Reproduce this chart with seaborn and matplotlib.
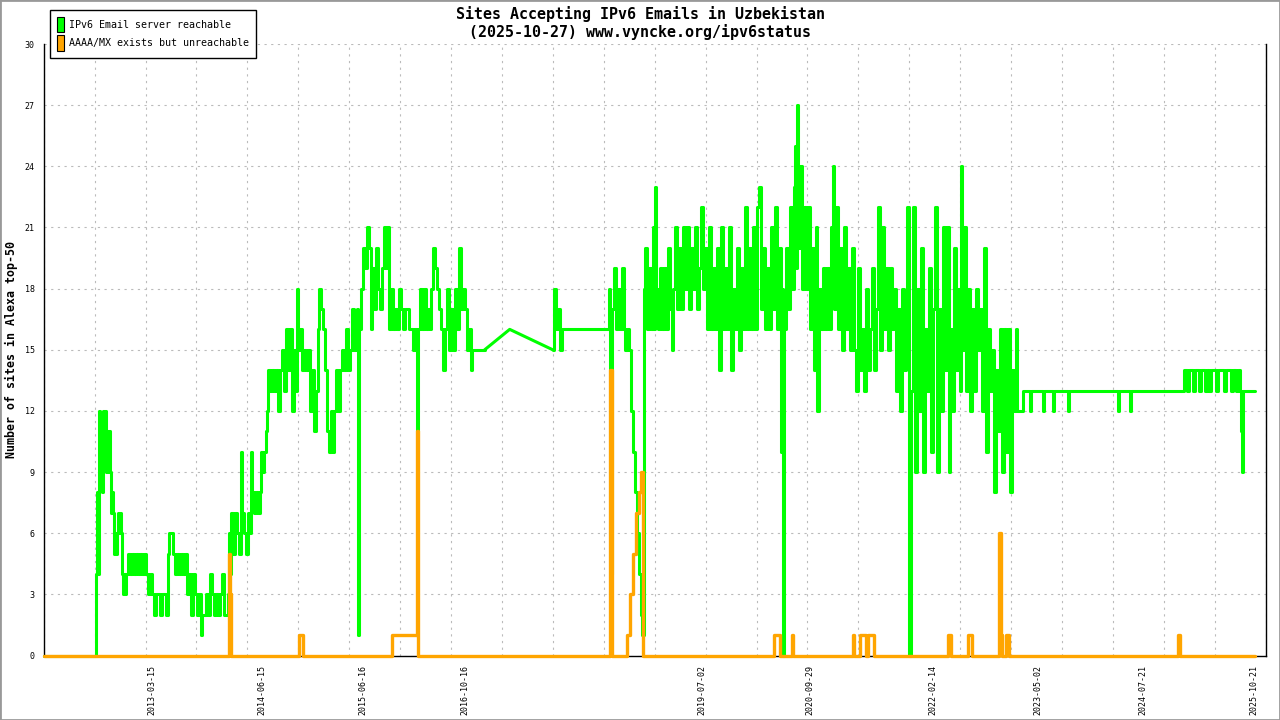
import numpy as np
import pandas as pd
import matplotlib
matplotlib.use("Agg")
import matplotlib.pyplot as plt
from matplotlib.patches import Patch, Rectangle
import seaborn as sns

# values (x = sample index along the time axis)
title_lines = ["Sites Accepting IPv6 Emails in Uzbekistan",
               "(2025-10-27) www.vyncke.org/ipv6status"]
series_names = ["IPv6 Email server reachable", "AAAA/MX exists but unreachable"]
y_label = "Number of sites in Alexa top-50"

date_labels = ["2013-03-15", "2014-06-15", "2015-06-16", "2016-10-16", "2019-07-02",
               "2020-09-29", "2022-02-14", "2023-05-02", "2024-07-21", "2025-10-21"]
date_pos = [108, 218, 319, 421, 658, 766, 889, 994, 1099, 1210]

# the 2017-2018 stretch has only a few samples, drawn as straight lines
sparse_from, sparse_to = 441, 509

green_pts = [
    (0, 0), (51, 0), (52, 4), (53, 8), (54, 4), (55, 12), (56, 9), (57, 11), (58, 8), (59, 12),
    (60, 10), (61, 12), (62, 9), (63, 11), (64, 9), (65, 11), (66, 9),
    (67, 7), (68, 8), (69, 7), (70, 5), (71, 6), (72, 5), (73, 6), (74, 7), (75, 6), (76, 7), (77, 6),
    (78, 4), (79, 3), (80, 4), (81, 3), (82, 4), (84, 5), (86, 4), (88, 5), (90, 4), (92, 5), (94, 4),
    (96, 5), (98, 4), (100, 5), (102, 4),
    (104, 3), (106, 4), (108, 3), (110, 2), (112, 3), (114, 3), (116, 2), (118, 3), (120, 3), (122, 2),
    (124, 5), (125, 6), (127, 6), (129, 5), (131, 4), (133, 5), (135, 4), (137, 5), (139, 4), (141, 5),
    (143, 3), (145, 4), (147, 2), (149, 4), (151, 3), (153, 2), (155, 3), (157, 1), (158, 2),
    (160, 2), (162, 3), (164, 2), (166, 4), (168, 3), (170, 2), (172, 3), (174, 2), (176, 3), (178, 4),
    (180, 2), (182, 2),
    (184, 3), (185, 6), (186, 4), (187, 7), (189, 5), (191, 7), (193, 6), (195, 5), (197, 10), (198, 7),
    (200, 6), (202, 5), (204, 7), (206, 6), (207, 10), (208, 8), (210, 7), (212, 8), (214, 7), (216, 8),
    (217, 10), (218, 9), (220, 10),
    (222, 11), (223, 12), (224, 14), (226, 13), (228, 14), (230, 13), (232, 14), (234, 12), (236, 14),
    (238, 15), (240, 13), (242, 16), (244, 14), (246, 16), (248, 12), (250, 15), (252, 13), (253, 18),
    (254, 15), (256, 16), (258, 14), (260, 15), (262, 14), (264, 15), (266, 12), (268, 14), (270, 11),
    (272, 13), (274, 16), (275, 18), (277, 17), (279, 16), (281, 14), (283, 11), (285, 10), (287, 12),
    (289, 10), (290, 12), (292, 14), (294, 12), (296, 14), (298, 15), (300, 14), (302, 16), (304, 14),
    (306, 15), (308, 17), (310, 15), (312, 16), (313, 17), (314, 1), (315, 16), (317, 18), (319, 20),
    (321, 19), (323, 21), (325, 20), (327, 16), (328, 19), (330, 17), (332, 20), (334, 18), (336, 17),
    (338, 19), (340, 21), (342, 19), (343, 21), (345, 16), (347, 18), (349, 16), (351, 17), (353, 16),
    (355, 18), (357, 17), (359, 16), (361, 17), (363, 17), (365, 16), (367, 16), (369, 15), (371, 16),
    (372, 15), (373, 11), (374, 16), (376, 18), (378, 16), (380, 18), (382, 16), (384, 17), (386, 16),
    (387, 18), (389, 20), (391, 19), (393, 18), (395, 17), (397, 16), (399, 14), (401, 16), (403, 18),
    (405, 15), (407, 17), (409, 15), (411, 18), (413, 16), (415, 20), (417, 17), (419, 18), (421, 17),
    (423, 15), (425, 16), (427, 14), (428, 15), (441, 15), (466, 16), (509, 15),
    (510, 18), (512, 16), (514, 17), (516, 15), (518, 16), (564, 16),
    (565, 18), (566, 14), (567, 4), (568, 17), (570, 19), (572, 16), (574, 18), (576, 16), (578, 19),
    (580, 16), (581, 15), (583, 16), (585, 15), (587, 12), (589, 10), (591, 8), (593, 6), (595, 4),
    (597, 2), (598, 1),
    (600, 18), (601, 20), (603, 16), (605, 19), (607, 16), (609, 21), (610, 16), (611, 23), (612, 18),
    (614, 16), (616, 19), (618, 16), (620, 19), (622, 16), (624, 20), (626, 17), (628, 15), (629, 18),
    (631, 21), (633, 17), (635, 20), (637, 17), (639, 21), (641, 18), (643, 21), (645, 17), (647, 20),
    (649, 18), (651, 21), (653, 17), (655, 19), (657, 22), (659, 18), (661, 20), (663, 16), (665, 21),
    (667, 16), (669, 19), (671, 16), (673, 20), (675, 14), (677, 21), (679, 16), (681, 19), (683, 16),
    (685, 21), (687, 14), (689, 18), (691, 16), (693, 20), (695, 15), (697, 19), (699, 16), (701, 22),
    (703, 16), (705, 20), (707, 16), (709, 21), (711, 16), (713, 22), (715, 23), (717, 17), (719, 20),
    (721, 16), (723, 19), (725, 16), (727, 21), (729, 17), (731, 22), (733, 16), (735, 20), (737, 10),
    (738, 18), (739, 0), (740, 16), (742, 20), (744, 17), (746, 22), (748, 18), (750, 23), (751, 25),
    (752, 19), (753, 27), (754, 20), (756, 24), (758, 18), (760, 22), (762, 18), (764, 22), (766, 16),
    (768, 20), (770, 14), (772, 21), (773, 12), (775, 18), (777, 16), (779, 19), (781, 16), (783, 19),
    (785, 16), (787, 21), (789, 24), (790, 17), (792, 22), (794, 16), (796, 20), (798, 15), (800, 21),
    (802, 16), (804, 19), (806, 15), (808, 20), (810, 15), (812, 13), (814, 19), (816, 14), (818, 16),
    (820, 13), (822, 18), (824, 14), (826, 16), (828, 19), (830, 14), (832, 17), (834, 22), (836, 15),
    (838, 21), (840, 16), (842, 19), (844, 15), (846, 19), (848, 16), (850, 18), (852, 13), (854, 17),
    (856, 12), (858, 18), (860, 14), (862, 16), (863, 22), (865, 0), (867, 13),
    (869, 22), (871, 9), (873, 18), (875, 12), (877, 20), (879, 9), (881, 16), (883, 13), (885, 19),
    (887, 10), (889, 17), (891, 22), (893, 9), (895, 17), (897, 12), (899, 21), (901, 14), (903, 21),
    (905, 9), (906, 16), (908, 12), (910, 20), (912, 14), (914, 18), (916, 13), (917, 24), (918, 15),
    (920, 21), (922, 13), (924, 18), (926, 12), (928, 17), (930, 13), (932, 18), (934, 15), (936, 17),
    (938, 12), (940, 20), (942, 10), (944, 16), (946, 13), (948, 15), (950, 8), (952, 14), (954, 11),
    (956, 16), (958, 9), (960, 16), (962, 10), (964, 16), (966, 8), (968, 14), (970, 12), (972, 16),
    (973, 12), (978, 12), (979, 13),
    (985, 13), (986, 12), (987, 13), (998, 13), (999, 12), (1000, 13), (1008, 13), (1009, 12),
    (1010, 13), (1023, 13), (1024, 12), (1025, 13), (1073, 13), (1074, 12), (1075, 13), (1085, 13),
    (1086, 12), (1087, 13), (1139, 13), (1140, 14), (1143, 13), (1145, 14), (1149, 13), (1151, 14),
    (1155, 13), (1157, 14), (1161, 13), (1163, 14), (1165, 13), (1167, 14), (1172, 13), (1174, 14),
    (1180, 13), (1182, 14), (1187, 13), (1189, 14), (1192, 13), (1194, 14), (1196, 13), (1197, 11),
    (1198, 9), (1199, 13), (1211, 13),
]

orange_pts = [
    (0, 0), (185, 5), (186, 3), (187, 0), (255, 1), (259, 0),
    (348, 1), (373, 11), (374, 0), (566, 14), (568, 0),
    (583, 1), (586, 3), (589, 5), (592, 7), (595, 8), (597, 9), (599, 0),
    (730, 1), (736, 0), (748, 1), (749, 0), (809, 1), (810, 0),
    (816, 1), (822, 0), (824, 1), (830, 0),
    (904, 1), (907, 0), (924, 1), (928, 0),
    (955, 6), (957, 1), (958, 0), (962, 1), (965, 0),
    (1134, 1), (1136, 0), (1211, 0),
]

GREEN = "#00ff00"
ORANGE = "#ffa500"

df_green = pd.DataFrame(green_pts, columns=["sample", "sites"])
df_orange = pd.DataFrame(orange_pts, columns=["sample", "sites"])

sns.set_style("white")
plt.rcParams["font.family"] = ["DejaVu Sans Mono"]
plt.rcParams["text.color"] = "black"
plt.rcParams["axes.labelcolor"] = "black"

fig = plt.figure(figsize=(12.8, 7.2), dpi=100)
ax = fig.add_axes([43.7 / 1280, 1 - 655.5 / 720, 1222 / 1280, 611.5 / 720])

dense_a = df_green[df_green["sample"] <= sparse_from]
sparse = df_green[(df_green["sample"] >= sparse_from) & (df_green["sample"] <= sparse_to)]
dense_b = df_green[df_green["sample"] >= sparse_to]

for part, style in [(dense_a, "steps-post"), (sparse, "default"), (dense_b, "steps-post")]:
    sns.lineplot(data=part, x="sample", y="sites", color=GREEN, lw=2.2, drawstyle=style,
                 estimator=None, sort=False, ax=ax, legend=False, clip_on=False, zorder=3)
sns.lineplot(data=df_orange, x="sample", y="sites", color=ORANGE, lw=2.4, drawstyle="steps-post",
             estimator=None, sort=False, ax=ax, legend=False, clip_on=False, zorder=4)

ax.set_xlim(0, 1222)
ax.set_ylim(0, 30)
ax.set_xticks(np.linspace(0, 1222, 25))
ax.set_xticks(date_pos, minor=True)
ax.set_xticklabels(date_labels, minor=True)
ax.set_yticks(range(0, 31, 3))
ax.set_xlabel("")
ax.set_ylabel(y_label, fontsize=8.4, fontweight="bold")
ax.yaxis.set_label_coords(-0.021, 0.5)

ax.grid(True, which="major", color="#bbbbbb", linestyle=(0, (2, 4)), linewidth=0.8)
ax.set_axisbelow(True)

ax.tick_params(axis="y", direction="inout", length=7.2, width=1, labelsize=6, pad=3,
               colors="black")
ax.tick_params(axis="x", which="major", direction="out", length=4.3, width=1,
               labelbottom=False, colors="black")
ax.tick_params(axis="x", which="minor", length=0, labelsize=6, pad=7, labelrotation=90,
               colors="black")

ax.spines["top"].set_visible(False)
for side in ["left", "right", "bottom"]:
    ax.spines[side].set_color("black")
    ax.spines[side].set_linewidth(1.0)

fig.text(0.5, 1 - 14 / 720, title_lines[0], ha="center", va="center",
         fontsize=10.8, fontweight="bold", color="black")
fig.text(0.5, 1 - 32 / 720, title_lines[1], ha="center", va="center",
         fontsize=10.8, fontweight="bold", color="black")

handles = [Patch(facecolor=GREEN, edgecolor="black", lw=0.8),
           Patch(facecolor=ORANGE, edgecolor="black", lw=0.8)]
leg = fig.legend(handles, series_names, loc="upper left",
                 bbox_to_anchor=(50 / 1280, 1 - 10 / 720), bbox_transform=fig.transFigure,
                 borderaxespad=0, fontsize=7.2, handlelength=0.67, handleheight=2.0,
                 handletextpad=0.55, labelspacing=0.3, borderpad=0.7,
                 frameon=True, fancybox=False, edgecolor="black", framealpha=1)
leg.get_frame().set_linewidth(1.0)
for t in leg.get_texts():
    t.set_color("black")

fig.patches.append(Rectangle((0, 0), 1, 1, transform=fig.transFigure, fill=False,
                             edgecolor="#999999", lw=2))

fig.savefig("out.png", dpi=100)
